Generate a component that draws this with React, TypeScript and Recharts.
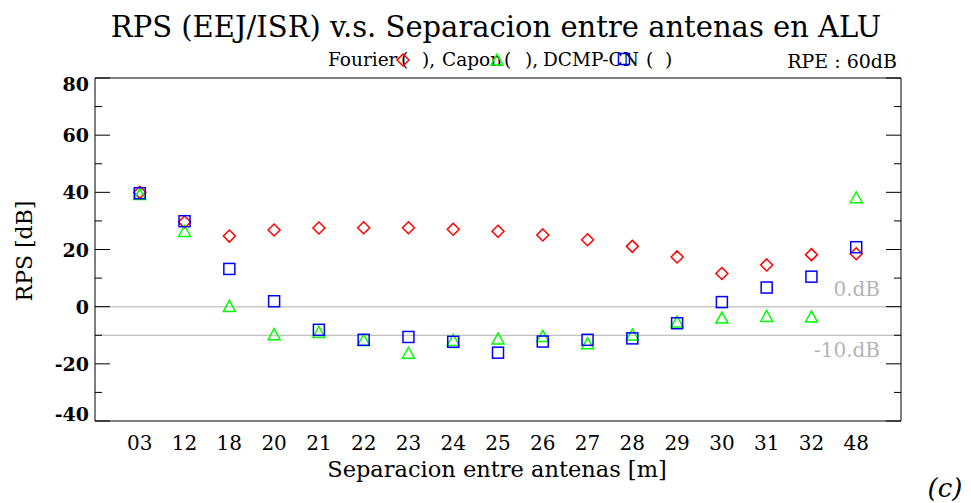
import React from 'react';
import { ScatterChart, Scatter, XAxis, YAxis, ReferenceLine } from 'recharts';

const categories = ['03', '12', '18', '20', '21', '22', '23', '24', '25', '26', '27', '28', '29', '30', '31', '32', '48'];
const fourier = [40.0, 29.6, 24.7, 26.8, 27.5, 27.6, 27.6, 27.1, 26.4, 25.1, 23.4, 21.1, 17.4, 11.6, 14.6, 18.2, 18.5];
const capon = [39.2, 26.3, 0.1, -9.8, -9.0, -11.8, -16.3, -11.8, -11.3, -10.4, -13.0, -9.9, -5.4, -4.0, -3.4, -3.6, 38.1];
const dcmp = [39.7, 29.9, 13.2, 1.9, -8.1, -11.6, -10.6, -12.3, -16.1, -12.2, -11.6, -11.1, -5.8, 1.6, 6.7, 10.5, 20.8];
const yMajorTicks = [-40, -20, 0, 20, 40, 60, 80];
const yAllTicks = [-40, -35, -30, -25, -20, -15, -10, -5, 0, 5, 10, 15, 20, 25, 30, 35, 40, 45, 50, 55, 60, 65, 70, 75, 80];
const xTicks = categories.map((_, i) => i + 1);

const toRows = (vals: number[]) => vals.map((v, i) => ({ x: i + 1, y: v }));
const fourierData = toRows(fourier);
const caponData = toRows(capon);
const dcmpData = toRows(dcmp);

const FONT = '"DejaVu Serif", serif';
const W = 971;
const H = 503;

const Diamond = (props: any) => {
  const { cx, cy } = props;
  if (cx == null || cy == null) return null;
  const r = 6;
  return <path d={`M${cx},${cy - r}L${cx + r},${cy}L${cx},${cy + r}L${cx - r},${cy}Z`} fill="none" stroke="#ff0000" strokeWidth={1.5} />;
};
const Triangle = (props: any) => {
  const { cx, cy } = props;
  if (cx == null || cy == null) return null;
  return <path d={`M${cx},${cy - 6}L${cx + 6},${cy + 5}L${cx - 6},${cy + 5}Z`} fill="none" stroke="#00ff00" strokeWidth={1.5} />;
};
const Square = (props: any) => {
  const { cx, cy } = props;
  if (cx == null || cy == null) return null;
  return <rect x={cx - 5.5} y={cy - 5.5} width={11} height={11} fill="none" stroke="#0000ff" strokeWidth={1.5} />;
};

const YTick = (props: any) => {
  const { x, y, payload } = props;
  let dy = 7;
  if (payload.value === 80) dy = 12.5;
  if (payload.value === -40) dy = 0;
  return (
    <text x={x} y={y} dy={dy} textAnchor="end" fontFamily={FONT} fontSize={19} fontWeight="bold" fill="#000">
      {String(payload.value)}
    </text>
  );
};
const XTick = (props: any) => {
  const { x, y, payload } = props;
  return (
    <text x={x} y={y} dy={29} textAnchor="middle" fontFamily={FONT} fontSize={20} fill="#000">
      {categories[payload.value - 1]}
    </text>
  );
};

// inward tick marks drawn at library-computed tick positions
const isMajor = (v: number) => yMajorTicks.includes(v);
const LeftInTick = (props: any) => {
  const { x, y, payload } = props;
  const len = isMajor(payload.value) ? 15 : 7;
  return <line x1={x} x2={x + len} y1={y} y2={y} stroke="#000" strokeWidth={1} />;
};
const RightInTick = (props: any) => {
  const { x, y, payload } = props;
  const len = isMajor(payload.value) ? 15 : 7;
  return <line x1={x} x2={x - len} y1={y} y2={y} stroke="#000" strokeWidth={1} />;
};
const TopInTick = (props: any) => {
  const { x, y } = props;
  return <line x1={x} x2={x} y1={y} y2={y + 6} stroke="#000" strokeWidth={1} />;
};
const BottomInTick = (props: any) => {
  const { x, y } = props;
  return <line x1={x} x2={x} y1={y} y2={y - 6} stroke="#000" strokeWidth={1} />;
};

const refLabel = (text: string, dy: number) => (p: any) => {
  const vb = p.viewBox || {};
  return (
    <text x={vb.x + vb.width - 21} y={vb.y + dy} textAnchor="end" fontFamily={FONT} fontSize={20} fill="#b4b4b4">
      {text}
    </text>
  );
};

export default function App() {
  return (
    <div style={{ position: 'absolute', left: 0, top: 0, width: W, height: H, background: '#fff' }}>
      <ScatterChart width={W} height={H} margin={{ top: 78, right: 70, bottom: 52, left: 35 }}>
        <XAxis xAxisId="top" orientation="top" mirror type="number" domain={[0, 18]} ticks={xTicks} allowDataOverflow height={1} tick={<TopInTick />} tickLine={false} tickSize={0} tickMargin={0} axisLine={{ stroke: '#000' }} />
        <XAxis xAxisId="bt" orientation="bottom" mirror type="number" domain={[0, 18]} ticks={xTicks} allowDataOverflow height={1} tick={<BottomInTick />} tickLine={false} tickSize={0} tickMargin={0} axisLine={false} />
        <XAxis xAxisId="b" dataKey="x" type="number" domain={[0, 18]} ticks={xTicks} allowDataOverflow height={30} tick={<XTick />} tickLine={false} tickSize={0} tickMargin={0} axisLine={{ stroke: '#000' }} />

        <YAxis yAxisId="lin" orientation="left" mirror type="number" domain={[-40, 80]} ticks={yAllTicks} allowDataOverflow width={1} tick={<LeftInTick />} tickLine={false} tickSize={0} tickMargin={0} axisLine={false} />
        <YAxis yAxisId="rin" orientation="right" mirror type="number" domain={[-40, 80]} ticks={yAllTicks} allowDataOverflow width={1} tick={<RightInTick />} tickLine={false} tickSize={0} tickMargin={0} axisLine={{ stroke: '#000' }} />
        <YAxis yAxisId="l" dataKey="y" orientation="left" type="number" domain={[-40, 80]} ticks={yMajorTicks} allowDataOverflow width={60} tick={<YTick />} tickLine={false} tickSize={0} tickMargin={6} axisLine={{ stroke: '#000' }} />

        <ReferenceLine xAxisId="b" yAxisId="l" y={0} stroke="#c8c8c8" strokeWidth={1.5} label={refLabel('0.dB', -11)} />
        <ReferenceLine xAxisId="b" yAxisId="l" y={-10} stroke="#b0b0b0" strokeWidth={1} label={refLabel('-10.dB', 21.5)} />

        <Scatter xAxisId="b" yAxisId="l" data={fourierData} shape={<Diamond />} isAnimationActive={false} />
        <Scatter xAxisId="b" yAxisId="l" data={caponData} shape={<Triangle />} isAnimationActive={false} />
        <Scatter xAxisId="b" yAxisId="l" data={dcmpData} shape={<Square />} isAnimationActive={false} />
      </ScatterChart>

      <svg width={W} height={H} style={{ position: 'absolute', left: 0, top: 0, pointerEvents: 'none' }}>
        <text x={496} y={37} textAnchor="middle" fontFamily={FONT} fontSize={29} fill="#000">
          RPS (EEJ/ISR) v.s. Separacion entre antenas en ALU
        </text>
        <text y={66} fontFamily={FONT} fontSize={18.5} fill="#000">
          <tspan x={328}>Fourier</tspan>
          <tspan x={401}>(</tspan>
          <tspan x={422}>),</tspan>
          <tspan x={442}>Capon</tspan>
          <tspan x={504}>(</tspan>
          <tspan x={525}>),</tspan>
          <tspan x={543}>DCMP-CN</tspan>
          <tspan x={646}>(</tspan>
          <tspan x={665}>)</tspan>
        </text>
        <path d="M403,54L409,60L403,66L397,60Z" fill="none" stroke="#ff0000" strokeWidth={1.5} />
        <path d="M497,54L503,65L491,65Z" fill="none" stroke="#00ff00" strokeWidth={1.5} />
        <rect x={618.5} y={53.5} width={11} height={11} fill="none" stroke="#0000ff" strokeWidth={1.5} />
        <text x={897} y={68} textAnchor="end" fontFamily={FONT} fontSize={19} fill="#000">
          RPE : 60dB
        </text>
        <text x={32} y={251} textAnchor="middle" fontFamily={FONT} fontSize={22} fill="#000" transform="rotate(-90, 32, 251)">
          RPS [dB]
        </text>
        <text x={497} y={477} textAnchor="middle" fontFamily={FONT} fontSize={22.5} fill="#000">
          Separacion entre antenas [m]
        </text>
        <text x={945} y={497} textAnchor="middle" fontFamily={FONT} fontSize={26} fontStyle="italic" fill="#000">
          (c)
        </text>
      </svg>
    </div>
  );
}
